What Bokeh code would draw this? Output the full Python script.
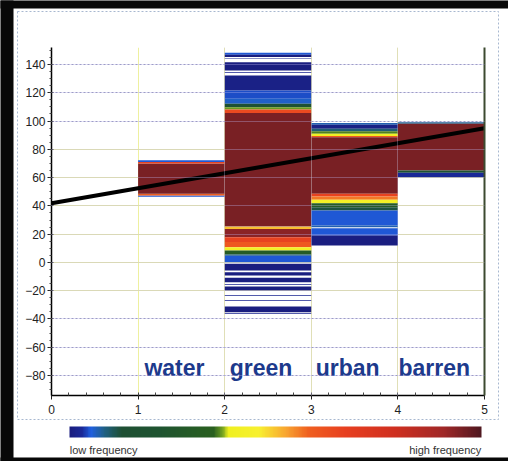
import numpy as np
from bokeh.plotting import figure
from bokeh.models import (Range1d, SingleIntervalTicker, FixedTicker, Grid, LinearAxis,
                          LinearColorMapper, ColorBar, ColumnDataSource)
from bokeh.core.properties import value
from bokeh.embed import file_html
from bokeh.resources import INLINE

# ---------------- data ----------------
CLASSES = ["water", "green", "urban", "barren"]
CLASS_LEFT = [1, 2, 3, 4]

# value bands (low, high) and relative frequency (0 = low, 1 = high) per class
WATER_LO = [46.5, 47.4, 48.5, 70.0, 71.0]
WATER_HI = [47.4, 48.5, 70.0, 71.0, 72.2]
WATER_F = [0.05, 0.58, 0.95, 0.66, 0.05]

GREEN_LO = [146.8, 145.2, 143.8, 135.8, 134.0, 121.6, 115.7, 112.2, 109.8, 108.2, 105.6,
            25.4, 23.6, 17.8, 14.5, 10.8, 8.4, 5.6, 4.7, 0.1,
            -5.7, -9.3, -14.0, -15.8, -19.9, -23.6, -27.2, -35.2, -36.2]
GREEN_HI = [148.3, 146.8, 144.3, 141.6, 134.5, 132.2, 121.6, 115.7, 112.2, 109.8, 108.2,
            105.6, 25.2, 23.6, 17.8, 14.5, 10.8, 8.4, 5.6, 4.7,
            -1.0, -6.9, -10.9, -15.3, -17.0, -23.1, -26.7, -31.2, -35.8]
GREEN_F = [0.05, 0.0, 0.02, 0.0, 0.02, 0.01, 0.045, 0.06, 0.15, 0.37, 0.64,
           0.95, 0.5, 0.93, 0.66, 0.6, 0.42, 0.3, 0.09, 0.05,
           0.0, 0.0, 0.0, 0.02, 0.0, 0.02, 0.02, 0.0, 0.02]

URBAN_LO = [97.3, 94.5, 92.8, 91.0, 89.5, 88.6, 48.5, 46.6, 44.3, 41.9, 39.0, 36.7,
            26.1, 24.8, 19.0, 11.9]
URBAN_HI = [98.6, 97.3, 94.5, 92.8, 91.0, 89.5, 88.6, 48.5, 46.6, 44.3, 41.9, 39.0,
            36.7, 26.1, 24.2, 19.0]
URBAN_F = [0.07, 0.01, 0.09, 0.36, 0.40, 0.6, 0.95, 0.66, 0.56, 0.42, 0.3, 0.12,
           0.05, 0.07, 0.05, 0.0]

BARREN_LO = [98.0, 65.0, 63.4, 60.3]
BARREN_HI = [99.2, 98.0, 65.0, 63.4]
BARREN_F = [0.08, 0.95, 0.2, 0.03]

REG_X = [0, 5]
REG_Y = [41.9, 94.9]

Y_TICKS = [-80, -60, -40, -20, 0, 20, 40, 60, 80, 100, 120, 140]
Y_TICKS_LIGHT = [-20, 0, 20, 40, 60, 80]
Y_TICKS_DARK = [-80, -60, -40, 100, 120, 140]

SCALE_LABELS = ["low frequency", "high frequency"]

# colour scale anchors (position along bar, colour)
CMAP_POS = [0.0, 0.03, 0.05, 0.085, 0.125, 0.22, 0.35, 0.37, 0.385, 0.46, 0.53, 0.58,
            0.67, 0.79, 0.91, 1.0]
CMAP_HEX = ["#1a1e80", "#1a2a9a", "#2060e0", "#206080", "#1e5034", "#1f5430", "#2a6020",
            "#70a020", "#f0f020", "#f8f030", "#f8a030", "#f06020", "#e84020", "#d03020",
            "#a02828", "#501820"]


def build_palette(pos, hexes, n=256):
    rgb = np.array([[int(h[i:i + 2], 16) for i in (1, 3, 5)] for h in hexes], float)
    t = np.linspace(0, 1, n)
    chans = [np.interp(t, pos, rgb[:, k]) for k in range(3)]
    return ["#%02x%02x%02x" % (int(r), int(g), int(b)) for r, g, b in zip(*chans)]


palette = build_palette(CMAP_POS, CMAP_HEX)
mapper = LinearColorMapper(palette=palette, low=0, high=1)

left, right, bottom, top, freq = [], [], [], [], []
for x0, lo, hi, f in zip(CLASS_LEFT,
                         [WATER_LO, GREEN_LO, URBAN_LO, BARREN_LO],
                         [WATER_HI, GREEN_HI, URBAN_HI, BARREN_HI],
                         [WATER_F, GREEN_F, URBAN_F, BARREN_F]):
    for a, b, c in zip(lo, hi, f):
        left.append(x0)
        right.append(x0 + 1)
        bottom.append(a)
        top.append(b)
        freq.append(c)
src = ColumnDataSource(dict(left=left, right=right, bottom=bottom, top=top, freq=freq))

# ---------------- figure ----------------
W, H = 508, 461
ML, MR, MT, MB = 51, 24, 47, 66
p = figure(width=W, height=H, output_backend="svg", toolbar_location=None,
           x_range=Range1d(0, 5), y_range=Range1d(-94.1, 152.0),
           min_border_left=ML, min_border_right=MR, min_border_top=MT, min_border_bottom=MB,
           background_fill_color="white", border_fill_color="white")
p.outline_line_color = None

p.quad(left="left", right="right", bottom="bottom", top="top", source=src,
       fill_color={"field": "freq", "transform": mapper}, line_color=None)

p.line(REG_X, REG_Y, line_width=4, line_color="black")

p.text(x=[c + 0.42 for c in CLASS_LEFT], y=[-75] * 4, text=CLASSES,
       text_font=value("Liberation Sans"), text_font_style="bold", text_font_size="23px",
       text_color="#1d3a8c", text_align="center", text_baseline="alphabetic")

# axes
for ax in (p.xaxis[0], p.yaxis[0]):
    ax.axis_line_color = "black"
    ax.axis_line_width = 1.5
    ax.major_tick_line_color = "#222222"
    ax.minor_tick_line_color = "#444444"
    ax.major_label_text_font = "Liberation Sans"
    ax.major_label_text_font_size = "12px"
    ax.major_label_text_color = "#222222"
    ax.major_tick_in = 2
    ax.major_tick_out = 4
p.xaxis.ticker = SingleIntervalTicker(interval=1, num_minor_ticks=5)
p.xaxis.minor_tick_in = 3
p.xaxis.minor_tick_out = 0
p.xaxis.major_label_standoff = 5
p.yaxis.ticker = SingleIntervalTicker(interval=20, num_minor_ticks=4)
p.yaxis.minor_tick_in = 0
p.yaxis.minor_tick_out = 2
p.yaxis.major_label_standoff = 2

right_ax = LinearAxis(ticker=FixedTicker(ticks=[]), axis_line_color="#3c4a30", axis_line_width=2,
                      major_tick_line_color=None, minor_tick_line_color=None,
                      major_tick_out=0, minor_tick_out=0, major_tick_in=0, minor_tick_in=0,
                      major_label_standoff=0)
p.add_layout(right_ax, "right")

# grids
p.xgrid.ticker = FixedTicker(ticks=[1, 2, 3, 4])
p.xgrid.grid_line_color = "#eef0a0"
p.ygrid.ticker = FixedTicker(ticks=Y_TICKS_LIGHT)
p.ygrid.grid_line_color = "#e8ec98"
p.add_layout(Grid(dimension=1, ticker=FixedTicker(ticks=Y_TICKS_DARK),
                  grid_line_color="#8a90b0", grid_line_dash="2 2"))
p.add_layout(Grid(dimension=1, ticker=FixedTicker(ticks=Y_TICKS), level="overlay",
                  grid_line_color="#c0b8f0", grid_line_alpha=0.35))
p.add_layout(Grid(dimension=0, ticker=FixedTicker(ticks=[2, 3, 4]), level="overlay",
                  grid_line_color="#c0b8f0", grid_line_alpha=0.3))


def block(x, y, w, h, color=None, border=None):
    """Plain rectangle in screen pixels (relative to the frame's bottom-left)."""
    m = LinearColorMapper(palette=[color or "#ffffff"], low=0, high=1)
    return ColorBar(color_mapper=m, orientation="horizontal", location=(x, y),
                    width=w, height=h, padding=0, ticker=FixedTicker(ticks=[]),
                    major_tick_line_color=None, minor_tick_line_color=None,
                    bar_line_color=None, background_fill_alpha=0,
                    scale_alpha=1 if color else 0,
                    border_line_color=border, border_line_dash="2 2", border_line_width=1,
                    label_standoff=0, title=None)


# scanned frame: dotted panel border and black edges
p.add_layout(block(17 - ML, -(419 - (H - MB)), 481, 408, border="#a8b8d0"), "center")
p.add_layout(block(-ML, -MB, 13, H, color="#080808"), "center")
p.add_layout(block(-ML, H - MB - 8, W, 8, color="#080808"), "center")
p.add_layout(block(-ML, -MB, W, 4, color="#080808"), "center")

# colour bar
cb = ColorBar(color_mapper=mapper, orientation="horizontal", location=(18, -42),
              width=412, height=11, padding=0, ticker=FixedTicker(ticks=[]),
              major_tick_line_color=None, minor_tick_line_color=None,
              bar_line_color=None, border_line_color=None,
              background_fill_alpha=0, label_standoff=0, title=None)
p.add_layout(cb, "center")

# "low frequency" / "high frequency" captions under the colour bar
cap_ticks = [0.083, 0.912]
cap = ColorBar(color_mapper=LinearColorMapper(palette=["#ffffff"], low=0, high=1),
               orientation="horizontal", location=(18, -63), width=412, height=1,
               padding=0, scale_alpha=0, ticker=FixedTicker(ticks=cap_ticks),
               major_label_overrides={t: s for t, s in zip(cap_ticks, SCALE_LABELS)},
               major_label_text_font="Liberation Sans", major_label_text_font_size="11px",
               major_label_text_color="#333333",
               major_tick_line_color=None, minor_tick_line_color=None,
               bar_line_color=None, border_line_color=None,
               background_fill_alpha=0, label_standoff=3, title=None)
p.add_layout(cap, "center")

open("out.html", "w").write(file_html(p, INLINE))
